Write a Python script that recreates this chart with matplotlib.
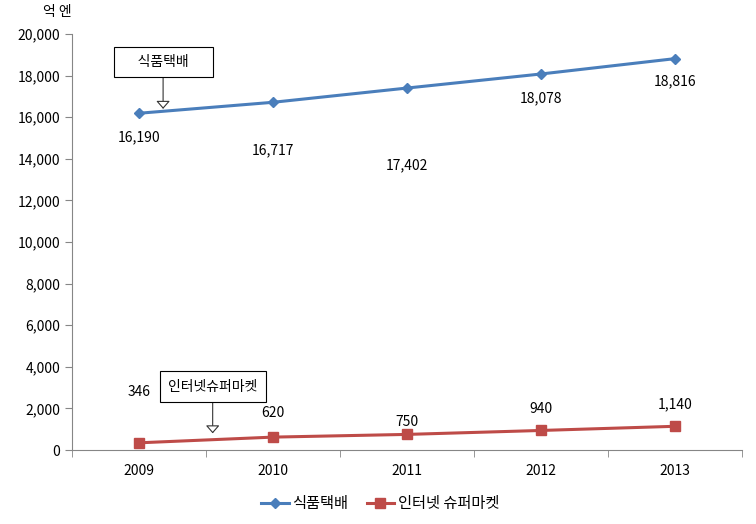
import matplotlib.pyplot as plt
import numpy as np

plt.rcParams['font.family'] = ['Noto Sans CJK KR', 'DejaVu Sans']
plt.rcParams['font.size'] = 10

years = ['2009', '2010', '2011', '2012', '2013']
food = [16190, 16717, 17402, 18078, 18816]
net = [346, 620, 750, 940, 1140]
food_name = '식품택배'
net_name = '인터넷 슈퍼마켓'

# label offsets in points (from the reference)
food_off = [-17.3, -34.6, -55.4, -17.3, -16.6]
net_off = [36.7, 17.3, 8.6, 15.8, 15.8]

blue = '#4A7EBB'
red = '#BE4B48'

fig = plt.figure(figsize=(7.56, 5.24), dpi=100)
ax = fig.add_axes([0.0952, 0.1412, 0.8863, 0.7939])

x = np.arange(len(years))
ax.plot(x, food, color=blue, lw=2.2, marker='D', ms=5, label=food_name)
ax.plot(x, net, color=red, lw=2.2, marker='s', ms=7, label=net_name)

for i in range(len(years)):
    ax.annotate(f'{food[i]:,}', (x[i], food[i]), xytext=(0, food_off[i]),
                textcoords='offset points', ha='center', va='center')
    ax.annotate(f'{net[i]:,}', (x[i], net[i]), xytext=(0, net_off[i]),
                textcoords='offset points', ha='center', va='center')

box = dict(boxstyle='square,pad=0.6', fc='white', ec='black', lw=0.8)
arr = dict(arrowstyle='-|>,head_length=0.4,head_width=0.35', mutation_scale=12,
           fc='white', ec='#333333', lw=0.8, shrinkA=0, shrinkB=0)
ax.annotate('     식품택배     ', xy=(0.18, 16400), xytext=(0.18, 18650), ha='center', va='center',
            bbox=box, arrowprops=arr)
ax.annotate('인터넷슈퍼마켓', xy=(0.55, 800), xytext=(0.55, 3050), ha='center', va='center',
            bbox=box, arrowprops=arr)

ax.set_xlim(-0.5, 4.5)
ax.set_ylim(0, 20000)
ax.set_yticks(np.arange(0, 20001, 2000))
ax.set_yticklabels([f'{v:,}' for v in range(0, 20001, 2000)])
ax.set_xticks(x)
ax.set_xticklabels(years)
ax.set_xticks(np.arange(-0.5, 4.6, 1), minor=True)
ax.tick_params(axis='x', which='major', length=0, pad=10)
ax.tick_params(axis='x', which='minor', length=5, color='#868686')
ax.tick_params(axis='y', length=5, color='#868686', direction='out')
for s in ['top', 'right']:
    ax.spines[s].set_visible(False)
for s in ['left', 'bottom']:
    ax.spines[s].set_color('#868686')

fig.text(0.057, 0.977, '억 엔', ha='left', va='center')

ax.legend(loc='upper center', bbox_to_anchor=(0.46, -0.075), ncol=2, frameon=False,
          fontsize=11, handlelength=1.8, handletextpad=0.25, columnspacing=1.2)

plt.savefig('out.png')
